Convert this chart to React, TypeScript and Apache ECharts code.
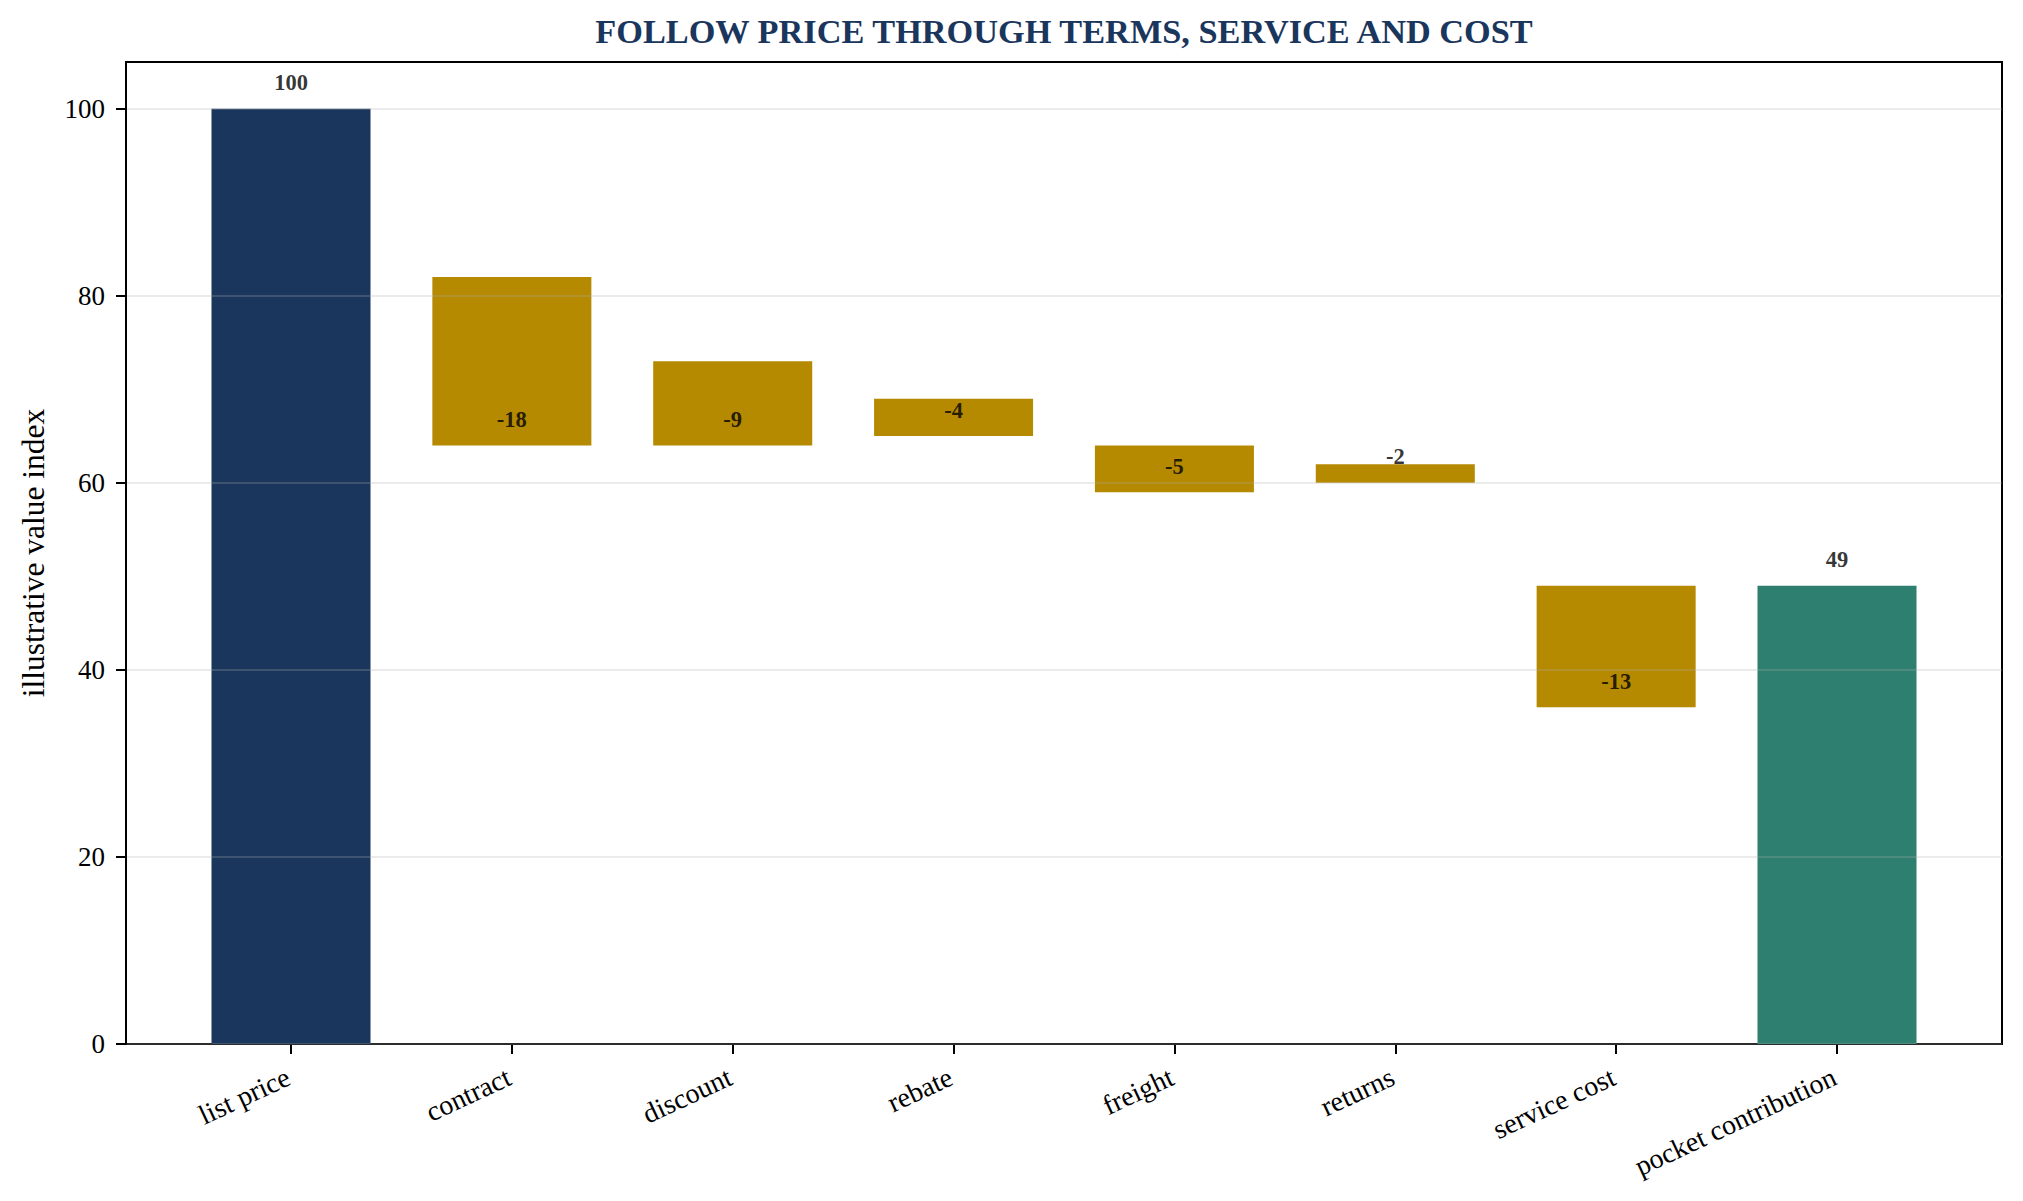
import { useEffect, useRef } from 'react'
import * as echarts from 'echarts'

const categories = [
  'list price',
  'contract',
  'discount',
  'rebate',
  'freight',
  'returns',
  'service cost',
  'pocket contribution',
]
const amounts = [100, -18, -9, -4, -5, -2, -13, 49]
const kinds = ['start', 'delta', 'delta', 'delta', 'delta', 'delta', 'delta', 'end']
const yTicks = [0, 20, 40, 60, 80, 100]

const COLORS: Record<string, string> = {
  start: '#1a365d',
  delta: '#b58900',
  end: '#2e7f6f',
}
const FONT = "'Liberation Serif', 'Times New Roman', serif"

// plot frame in page pixels
const FRAME = { left: 126, top: 62, right: 2002, bottom: 1044 }
const firstCenter = 291
const lastCenter = 1837

function buildSteps() {
  const bases: number[] = []
  const heights: number[] = []
  const labelY: number[] = []
  let running = 0
  amounts.forEach((v, i) => {
    if (kinds[i] === 'delta') {
      running += v
      const base = running - Math.abs(v)
      bases.push(base)
      heights.push(Math.abs(v))
      labelY.push(base)
    } else {
      running = v
      bases.push(0)
      heights.push(v)
      labelY.push(v)
    }
  })
  return { bases, heights, labelY }
}

export default function App() {
  const ref = useRef<HTMLDivElement | null>(null)

  useEffect(() => {
    if (!ref.current) return
    const chart = echarts.init(ref.current, null, { renderer: 'svg' })
    const { bases, heights, labelY } = buildSteps()
    const band = (lastCenter - firstCenter) / (categories.length - 1)
    const dataLeft = firstCenter - band / 2
    const dataWidth = band * categories.length
    const plotH = FRAME.bottom - FRAME.top

    const option: echarts.EChartsCoreOption = {
      animation: false,
      backgroundColor: '#ffffff',
      textStyle: { fontFamily: FONT },
      graphic: [
        {
          type: 'text',
          x: (FRAME.left + FRAME.right) / 2,
          y: 31,
          style: {
            text: 'FOLLOW PRICE THROUGH TERMS, SERVICE AND COST',
            fill: '#1a365d',
            font: `bold 34.3px ${FONT}`,
            textAlign: 'center',
            textVerticalAlign: 'middle',
          },
        },
      ],
      grid: [
        {
          left: FRAME.left,
          top: FRAME.top,
          width: FRAME.right - FRAME.left,
          height: plotH,
          show: true,
          borderColor: '#000',
          borderWidth: 2,
          backgroundColor: 'transparent',
        },
        {
          left: dataLeft,
          top: FRAME.top,
          width: dataWidth,
          height: plotH,
        },
      ],
      xAxis: [
        { type: 'value', gridIndex: 0, min: 0, max: 1, show: false },
        {
          type: 'category',
          gridIndex: 1,
          data: categories,
          axisLine: { show: false },
          axisTick: { show: true, alignWithLabel: true, length: 10, lineStyle: { color: '#000', width: 2 } },
          axisLabel: {
            rotate: 25,
            margin: 30,
            interval: 0,
            fontSize: 28,
            color: '#000',
            fontFamily: FONT,
            padding: [0, 3, 0, 0],
          },
          splitLine: { show: false },
        },
      ],
      yAxis: [
        {
          type: 'value',
          gridIndex: 0,
          min: 0,
          max: 105,
          interval: 20,
          z: 5,
          name: 'illustrative value index',
          nameLocation: 'middle',
          nameGap: 77,
          nameTextStyle: { fontSize: 31.5, color: '#000', fontFamily: FONT },
          axisLine: { show: true, lineStyle: { color: '#000', width: 2 } },
          axisTick: {
            show: true,
            length: 10,
            customValues: yTicks,
            lineStyle: { color: '#000', width: 2 },
          },
          axisLabel: {
            fontSize: 27,
            color: '#000',
            margin: 21,
            fontFamily: FONT,
            customValues: yTicks,
          },
          splitLine: { show: true, lineStyle: { color: 'rgba(176,176,176,0.25)', width: 2 } },
        },
        { type: 'value', gridIndex: 1, min: 0, max: 105, show: false },
      ],
      series: [
        {
          type: 'bar',
          xAxisIndex: 1,
          yAxisIndex: 1,
          stack: 'wf',
          barWidth: '72%',
          silent: true,
          itemStyle: { color: 'transparent' },
          data: bases,
        },
        {
          type: 'bar',
          xAxisIndex: 1,
          yAxisIndex: 1,
          stack: 'wf',
          barWidth: '72%',
          data: heights.map((h, i) => ({ value: h, itemStyle: { color: COLORS[kinds[i]] } })),
        },
        {
          type: 'scatter',
          xAxisIndex: 1,
          yAxisIndex: 1,
          symbolSize: 0,
          silent: true,
          z: 6,
          data: labelY.map((y, i) => ({ value: [i, y], name: String(amounts[i]) })),
          label: {
            show: true,
            position: 'inside',
            offset: [0, -26],
            formatter: (p: any) => p.name,
            fontSize: 22.5,
            fontWeight: 'bold',
            color: '#000',
            fontFamily: FONT,
          },
        },
      ],
    }
    chart.setOption(option)
    return () => chart.dispose()
  }, [])

  return (
    <div
      ref={ref}
      style={{ position: 'absolute', left: 0, top: 0, width: 2023, height: 1201, background: '#fff' }}
    />
  )
}
